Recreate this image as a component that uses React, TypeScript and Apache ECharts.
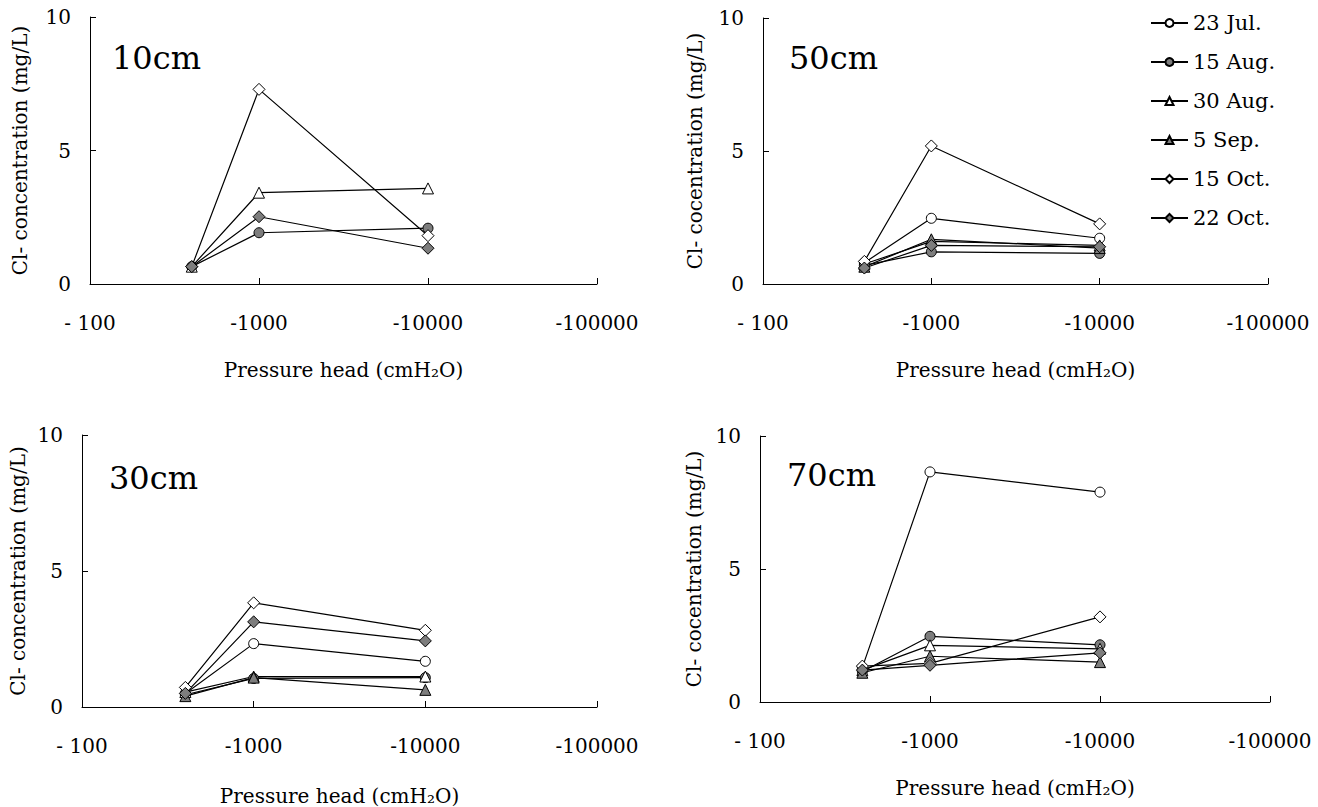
import React, { useEffect, useRef } from "react";
import * as echarts from "echarts";

// Pressure head (absolute value, cmH2O) of the three sampling points
const X_VALUES = [400, 1000, 10000];
const X_TICKS = [100, 1000, 10000, 100000];
const SERIES_NAMES = ["23 Jul.", "15 Aug.", "30 Aug.", "5 Sep.", "15 Oct.", "22 Oct."];
const PANEL_TITLES = ["10cm", "50cm", "30cm", "70cm"];
const Y_NAMES = [
  "Cl- concentration (mg/L)",
  "Cl- cocentration (mg/L)",
  "Cl- concentration (mg/L)",
  "Cl- cocentration (mg/L)",
];

// Cl- concentration (mg/L), one row per date, order as SERIES_NAMES
const P10: (number[] | null)[] = [
  null,
  [0.65, 1.92, 2.09],
  [0.65, 3.42, 3.58],
  null,
  [0.65, 7.29, 1.81],
  [0.65, 2.52, 1.34],
];
const P50: (number[] | null)[] = [
  [0.8, 2.47, 1.72],
  [0.7, 1.21, 1.15],
  [0.75, 1.6, 1.45],
  [0.65, 1.68, 1.35],
  [0.85, 5.19, 2.26],
  [0.6, 1.45, 1.4],
];
const P30: (number[] | null)[] = [
  [0.5, 2.33, 1.68],
  [0.45, 1.05, 1.08],
  [0.55, 1.12, 1.12],
  [0.4, 1.08, 0.63],
  [0.72, 3.83, 2.82],
  [0.5, 3.13, 2.43],
];
const P70: (number[] | null)[] = [
  [1.3, 8.65, 7.89],
  [1.15, 2.47, 2.15],
  [1.2, 2.13, 2.0],
  [1.1, 1.72, 1.5],
  [1.35, 1.45, 3.2],
  [1.2, 1.38, 1.85],
];
const PANELS = [P10, P50, P30, P70];

const FONT = "DejaVu Serif";
const GRAY = "#7d7d7d";
const MARKERS = [
  { symbol: "circle", fill: "#fff", size: 10 },
  { symbol: "circle", fill: GRAY, size: 10 },
  { symbol: "triangle", fill: "#fff", size: 11 },
  { symbol: "triangle", fill: GRAY, size: 11 },
  { symbol: "diamond", fill: "#fff", size: 12 },
  { symbol: "diamond", fill: GRAY, size: 12 },
];

const GRIDS = [
  { left: 90, top: 17, width: 507, height: 267, nameGapX: 76, nameGapY: 60 },
  { left: 763, top: 18, width: 505, height: 266, nameGapX: 76, nameGapY: 58 },
  { left: 82, top: 435, width: 515, height: 272, nameGapX: 79, nameGapY: 54 },
  { left: 760, top: 436, width: 510, height: 266, nameGapX: 76, nameGapY: 56 },
];
const TITLE_POS = [
  { left: 112, top: 42 },
  { left: 789, top: 42 },
  { left: 109, top: 462 },
  { left: 787, top: 459 },
];

export default function App() {
  const ref = useRef<HTMLDivElement>(null);
  useEffect(() => {
    document.body.style.margin = "0";
    if (!ref.current) return;
    const chart = echarts.init(ref.current, null, { renderer: "svg" });
    const textBase = { fontFamily: FONT, color: "#000" };

    const xAxes = GRIDS.map((g, i) => ({
      type: "log",
      gridIndex: i,
      logBase: 10,
      min: X_TICKS[0],
      max: X_TICKS[X_TICKS.length - 1],
      name: "Pressure head (cmH₂O)",
      nameLocation: "middle",
      nameGap: g.nameGapX,
      nameTextStyle: { ...textBase, fontSize: 20 },
      axisLine: { lineStyle: { color: "#000", width: 1 } },
      axisTick: { inside: true, length: 6, lineStyle: { color: "#000" } },
      minorTick: { show: false },
      splitLine: { show: false },
      axisLabel: {
        ...textBase,
        fontSize: 20,
        margin: 29,
        formatter: (v: number) => (v === 100 ? "- 100" : "-" + v),
      },
    }));
    const yAxes = GRIDS.map((g, i) => ({
      type: "value",
      gridIndex: i,
      min: 0,
      max: 10,
      interval: 5,
      name: Y_NAMES[i],
      nameLocation: "middle",
      nameGap: g.nameGapY,
      nameTextStyle: { ...textBase, fontSize: 20 },
      axisLine: { show: true, lineStyle: { color: "#000", width: 1 } },
      axisTick: { show: true, inside: true, length: 6, lineStyle: { color: "#000" } },
      splitLine: { show: false },
      axisLabel: { ...textBase, fontSize: 20, margin: 19 },
    }));

    const series: any[] = [];
    PANELS.forEach((panel, pi) => {
      panel.forEach((vals, si) => {
        if (!vals) return;
        const m = MARKERS[si];
        series.push({
          type: "line",
          name: SERIES_NAMES[si],
          xAxisIndex: pi,
          yAxisIndex: pi,
          data: vals.map((v, k) => [X_VALUES[k], v]),
          symbol: m.symbol,
          symbolSize: m.size,
          showSymbol: true,
          lineStyle: { color: "#000", width: 1.2 },
          itemStyle: { color: m.fill, borderColor: "#000", borderWidth: 1 },
          emphasis: { disabled: true },
        });
      });
    });

    chart.setOption({
      animation: false,
      backgroundColor: "#fff",
      title: PANEL_TITLES.map((t, i) => ({
        text: t,
        left: TITLE_POS[i].left,
        top: TITLE_POS[i].top,
        padding: 0,
        textStyle: { ...textBase, fontSize: 32, fontWeight: "normal" },
      })),
      legend: {
        data: SERIES_NAMES,
        orient: "vertical",
        left: 1145,
        top: 7,
        itemWidth: 37,
        itemHeight: 10,
        itemGap: 17,
        textStyle: { ...textBase, fontSize: 21, lineHeight: 22 },
        selectedMode: false,
      },
      grid: GRIDS.map((g) => ({
        left: g.left,
        top: g.top,
        width: g.width,
        height: g.height,
        containLabel: false,
      })),
      xAxis: xAxes,
      yAxis: yAxes,
      series,
    });
    return () => chart.dispose();
  }, []);
  return <div ref={ref} style={{ width: 1318, height: 807 }} />;
}
